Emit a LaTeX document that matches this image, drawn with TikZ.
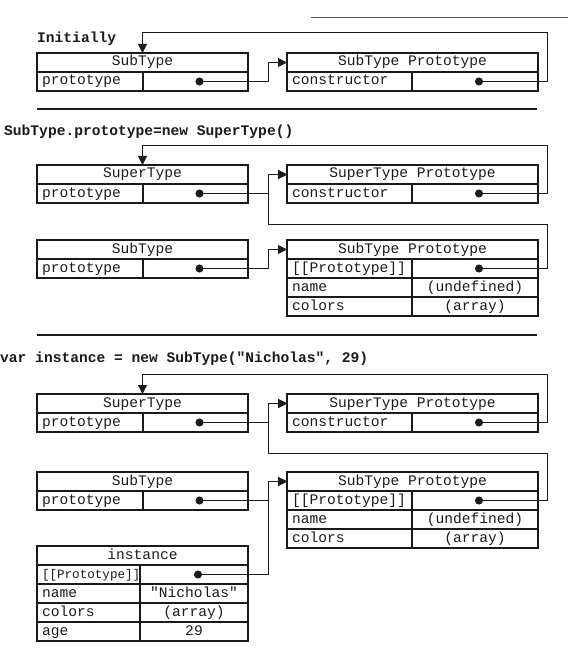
\documentclass[tikz,border=0pt]{standalone}
\usepackage{fontspec}
\setmonofont{Liberation Mono}
\usetikzlibrary{arrows.meta}
\definecolor{objInk}{HTML}{1A1A1A}
\definecolor{objGray}{HTML}{555555}
\tikzset{
  every picture/.style={font=\ttfamily\fontsize{14.6}{17}\selectfont, text=objInk},
  obj cell/.style={draw=objInk, line width=1.5pt, outer sep=0pt,
    inner xsep=5pt, inner ysep=0pt, minimum height=19pt,
    text height=10pt, text depth=3pt},
  obj head/.style={obj cell},
  obj key/.style={obj cell, align=left},
  obj val/.style={obj cell},
  obj ptr/.style={{Circle[length=8pt]}-{Triangle[length=9pt,width=9pt]},
    draw=objInk, line width=1pt},
  obj rule/.style={draw=objInk, line width=2.4pt},
  obj title/.style={font=\ttfamily\bfseries\fontsize{14.6}{17}\selectfont,
    anchor=west, inner sep=0pt}
}
\newcommand\rowh{19}
% name, top left, width, key width, title, key/value rows
\newcommand\objbox[6]{%
  \pgfmathsetmacro\objkw{#4-10}%
  \node[obj head, minimum width=#3pt, anchor=north west] (#1) at (#2) {#5};
  \foreach \key/\val [count=\i] in {#6}{
    \node[obj key, text width=\objkw pt, anchor=north west]
      (#1-k\i) at ([yshift={-(\i-1)*\rowh}]#1.south west) {\key};
    \node[obj val, minimum width={#3-#4}, anchor=west] (#1-v\i) at (#1-k\i.east) {\val};
  }}

\begin{document}
\begin{tikzpicture}[x=1pt,y=-1pt]
  \useasboundingbox (0,0) rectangle (585,652);
  \coordinate (busx) at (268,0);
  \draw[objGray, line width=1pt] (311,18) -- (568,18);

  % initially
  \node[obj title] (title1) at (37,39) {Initially};
  \objbox{sub1}{37,53}{211}{106}{SubType}{prototype/{}}
  \objbox{subp1}{287,53}{251}{125}{SubType Prototype}{constructor/{}}
  \coordinate (loop1) at (547,33);
  \draw[obj ptr] (sub1-v1.center) -- (sub1-v1.center -| busx) |- (subp1.west);
  \draw[obj ptr] (subp1-v1.center) -| (loop1) -| (sub1.north);
  \draw[obj rule] (37,109) -- (537,109);

  % prototype chained
  \node[obj title] (title2) at (4,132) {SubType.prototype=new SuperType()};
  \objbox{sup2}{37,165}{211}{106}{SuperType}{prototype/{}}
  \objbox{supp2}{287,165}{251}{125}{SuperType Prototype}{constructor/{}}
  \objbox{sub2}{37,240}{211}{106}{SubType}{prototype/{}}
  \objbox{subp2}{287,240}{251}{125}{SubType Prototype}
    {{[[Prototype]]}/{}, name/(undefined), colors/(array)}
  \coordinate (loop2) at (547,146);
  \coordinate (link2) at (547,224);
  \draw[obj ptr] (sup2-v1.center) -- (sup2-v1.center -| busx) |- (supp2.west);
  \draw[obj ptr] (supp2-v1.center) -| (loop2) -| (sup2.north);
  \draw[obj ptr] (subp2-v1.center) -| (link2) -- (link2 -| busx) |- (supp2.west);
  \draw[obj ptr] (sub2-v1.center) -- (sub2-v1.center -| busx) |- (subp2.west);
  \draw[obj rule] (37,335) -- (537,335);

  % instance
  \node[obj title] (title3) at (0,359) {var instance = new SubType("Nicholas", 29)};
  \objbox{sup3}{37,394}{211}{106}{SuperType}{prototype/{}}
  \objbox{supp3}{287,394}{251}{125}{SuperType Prototype}{constructor/{}}
  \objbox{sub3}{37,472}{211}{106}{SubType}{prototype/{}}
  \objbox{subp3}{287,472}{251}{125}{SubType Prototype}
    {{[[Prototype]]}/{}, name/(undefined), colors/(array)}
  \objbox{inst3}{37,546}{211}{103}{instance}
    {{\fontsize{12.6}{14}\selectfont[[Prototype]]}/{}, name/"Nicholas", colors/(array), age/29}
  \coordinate (loop3) at (547,374);
  \coordinate (link3) at (547,453);
  \draw[obj ptr] (sup3-v1.center) -- (sup3-v1.center -| busx) |- (supp3.west);
  \draw[obj ptr] (supp3-v1.center) -| (loop3) -| (sup3.north);
  \draw[obj ptr] (subp3-v1.center) -| (link3) -- (link3 -| busx) |- (supp3.west);
  \draw[obj ptr] (sub3-v1.center) -- (sub3-v1.center -| busx) |- (subp3.west);
  \draw[obj ptr] (inst3-v1.center) -- (inst3-v1.center -| busx) |- (subp3.west);
\end{tikzpicture}
\end{document}
